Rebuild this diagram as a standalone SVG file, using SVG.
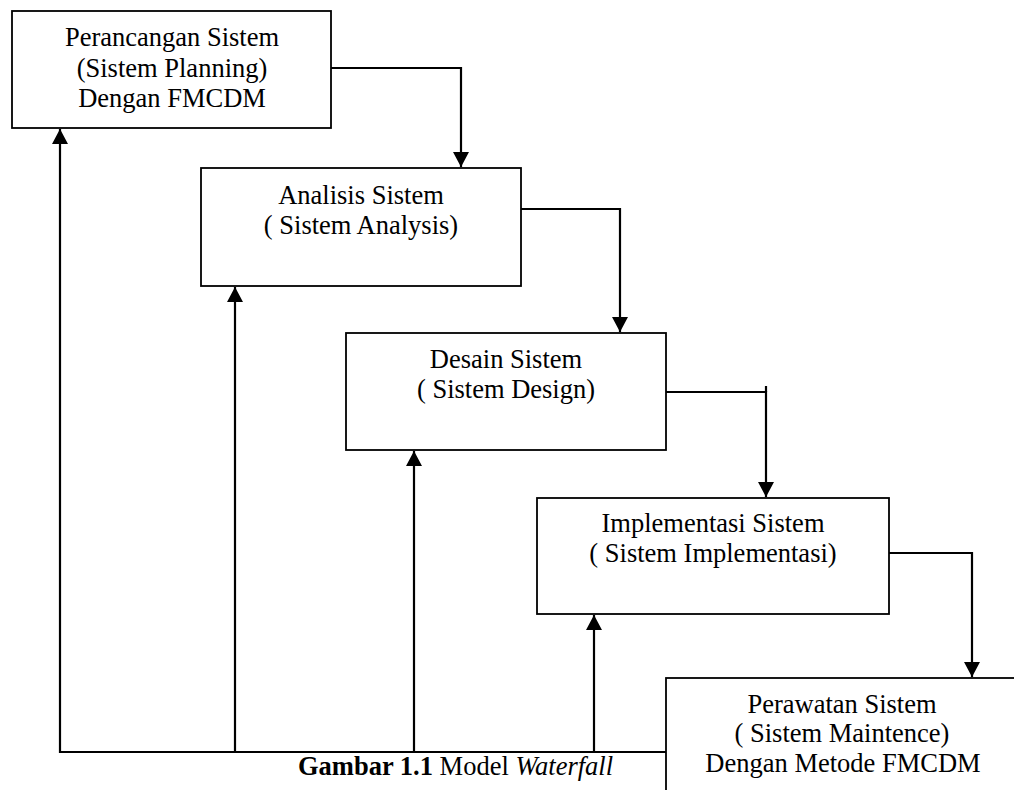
<svg xmlns="http://www.w3.org/2000/svg" width="1014" height="790" viewBox="0 0 1014 790">
<style>
.box{fill:#fff;stroke:#000;stroke-width:1.8}
.t{font-family:"Liberation Serif","Times New Roman",serif;font-size:26.5px;fill:#000;text-anchor:middle}
.c{fill:none;stroke:#000;stroke-width:2.2}
</style>
<defs>
<marker id="ah" viewBox="0 0 15 16" refX="15" refY="8" markerWidth="15" markerHeight="16" markerUnits="userSpaceOnUse" orient="auto">
<path d="M0,0 L15,8 L0,16 Z" fill="#000"/>
</marker>
</defs>
<rect width="1014" height="790" fill="#fff"/>
<g id="connectors">
<path class="c" d="M331,68 H461 V167" marker-end="url(#ah)"/>
<path class="c" d="M521,209 H620 V332" marker-end="url(#ah)"/>
<path class="c" d="M666,392 H766 V497" marker-end="url(#ah)"/>
<path class="c" d="M766,386 V392"/>
<path class="c" d="M889,553 H972 V677" marker-end="url(#ah)"/>
<path class="c" d="M666,752 H60 V129" marker-end="url(#ah)"/>
<path class="c" d="M235,752 V287" marker-end="url(#ah)"/>
<path class="c" d="M414,752 V451" marker-end="url(#ah)"/>
<path class="c" d="M594,752 V615" marker-end="url(#ah)"/>
</g>
<g id="n1">
<rect class="box" x="12" y="11" width="319" height="117"/>
<text class="t" x="172" y="46">Perancangan Sistem</text>
<text class="t" x="172" y="76.5">(Sistem Planning)</text>
<text class="t" x="172" y="107">Dengan FMCDM</text>
</g>
<g id="n2">
<rect class="box" x="201" y="168" width="320" height="118"/>
<text class="t" x="361" y="204">Analisis Sistem</text>
<text class="t" x="361" y="234">( Sistem Analysis)</text>
</g>
<g id="n3">
<rect class="box" x="346" y="333" width="320" height="117"/>
<text class="t" x="506" y="368">Desain Sistem</text>
<text class="t" x="506" y="398">( Sistem Design)</text>
</g>
<g id="n4">
<rect class="box" x="537" y="498" width="352" height="116"/>
<text class="t" x="713" y="532">Implementasi Sistem</text>
<text class="t" x="713" y="562">( Sistem Implementasi)</text>
</g>
<g id="n5">
<rect class="box" x="666" y="678" width="352" height="130"/>
<text class="t" x="842" y="713">Perawatan Sistem</text>
<text class="t" x="842" y="742">( Sistem Maintence)</text>
<text class="t" x="843" y="772">Dengan Metode FMCDM</text>
</g>
<text x="298" y="775" font-family="Liberation Serif, Times New Roman, serif" font-size="26.5"><tspan font-weight="bold">Gambar 1.1</tspan> Model <tspan font-style="italic">Waterfall</tspan></text>
</svg>
